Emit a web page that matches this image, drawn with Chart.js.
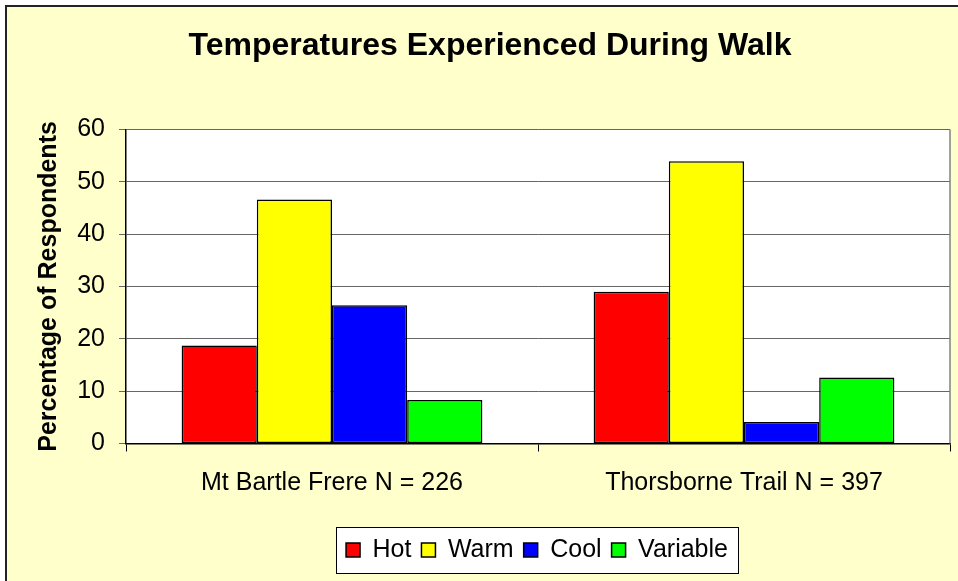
<!DOCTYPE html>
<html>
<head>
<meta charset="utf-8">
<script src="https://cdn.jsdelivr.net/npm/chart.js@4.4.1/dist/chart.umd.min.js"></script>
<style>
  html, body { margin: 0; padding: 0; background: #fff; }
</style>
</head>
<body>
<canvas id="tempChart" width="958" height="581"></canvas>
<script>
// dados
const categories = ['Mt Bartle Frere N = 226', 'Thorsborne Trail N = 397'];
const seriesNames = ['Hot', 'Warm', 'Cool', 'Variable'];
const hotValues = [18.7, 29.0];
const warmValues = [46.6, 53.9];
const coolValues = [26.4, 4.1];
const variableValues = [8.3, 12.6];
const seriesColors = ['#FF0000', '#FFFF00', '#0000FF', '#00FF00'];

const FONT = '"Liberation Sans", Arial, sans-serif';
const LEGEND_CENTER_X = 537;
const TITLE_CENTER_X = 490;

function legendFrame(chart) {
    const boxes = chart.legend && chart.legend.legendHitBoxes;
    if (!boxes || !boxes.length) return null;
    const left = Math.min(...boxes.map(b => b.left)) - 10;
    const right = Math.max(...boxes.map(b => b.left + b.width)) + 10;
    const mid = boxes[0].top + boxes[0].height / 2;
    return { x: Math.round(left), y: Math.round(mid - 23), w: Math.round(right - left), h: 46 };
}

// fundo amarelo, moldura e área do gráfico branca
const framePlugin = {
    id: 'frame',
    afterUpdate(chart) {
        // desloca título e legenda para a posição do original
        const lg = chart.legend;
        if (lg) {
            const dx = LEGEND_CENTER_X - (lg.left + lg.right) / 2;
            lg.left += dx;
            lg.right += dx;
            (lg.legendHitBoxes || []).forEach(b => { b.left += dx; });
        }
        const tb = chart.titleBlock;
        if (tb) {
            const dt = TITLE_CENTER_X - (tb.left + tb.right) / 2;
            tb.left += dt;
            tb.right += dt;
        }
    },
    beforeDraw(chart) {
        const ctx = chart.ctx;
        const a = chart.chartArea;
        ctx.save();
        ctx.fillStyle = '#ffffff';
        ctx.fillRect(0, 0, chart.width, chart.height);
        ctx.fillStyle = '#FFFFCC';
        ctx.fillRect(6, 6, chart.width, chart.height);
        ctx.strokeStyle = '#222';
        ctx.lineWidth = 2;
        ctx.strokeRect(6, 6, chart.width + 10, chart.height + 10);
        ctx.fillStyle = '#ffffff';
        ctx.fillRect(a.left, a.top, a.right - a.left, a.bottom - a.top);
        const f = legendFrame(chart);
        if (f) ctx.fillRect(f.x, f.y, f.w, f.h);
        ctx.restore();
    },
    afterDraw(chart) {
        const ctx = chart.ctx;
        const a = chart.chartArea;
        ctx.save();
        // borda direita da área do gráfico
        ctx.strokeStyle = '#808080';
        ctx.lineWidth = 1.5;
        ctx.beginPath();
        ctx.moveTo(a.right, a.top);
        ctx.lineTo(a.right, a.bottom);
        ctx.stroke();
        // caixa da legenda
        const f = legendFrame(chart);
        if (f) {
            ctx.strokeStyle = '#000';
            ctx.lineWidth = 1;
            ctx.strokeRect(f.x + 0.5, f.y + 0.5, f.w, f.h);
        }
        ctx.restore();
    }
};

function makeDataset(i, values) {
    return {
        label: seriesNames[i],
        data: values,
        backgroundColor: seriesColors[i],
        borderColor: '#000000',
        borderWidth: 1.5,
        borderSkipped: false,
        barPercentage: 1.0,
        categoryPercentage: 0.73
    };
}

const ctx = document.getElementById('tempChart');

window.tempChartInstance = new Chart(ctx, {
    type: 'bar',
    data: {
        labels: categories,
        datasets: [
            makeDataset(0, hotValues),
            makeDataset(1, warmValues),
            makeDataset(2, coolValues),
            makeDataset(3, variableValues)
        ]
    },
    options: {
        responsive: false,
        animation: false,
        devicePixelRatio: 1,
        layout: {
            padding: { left: 0, right: 8, top: 0, bottom: 8.5 }
        },
        plugins: {
            title: {
                display: true,
                text: 'Temperatures Experienced During Walk',
                color: '#000',
                font: { family: FONT, size: 32, weight: 'bold' },
                padding: { top: 27, bottom: 64 }
            },
            legend: {
                position: 'bottom',
                labels: {
                    color: '#000',
                    font: { family: FONT, size: 25 },
                    boxWidth: 14,
                    boxHeight: 14,
                    padding: 10
                }
            },
            tooltip: { enabled: false }
        },
        scales: {
            x: {
                grid: {
                    display: true,
                    drawOnChartArea: false,
                    drawTicks: true,
                    tickLength: 8,
                    color: '#000',
                    offset: true
                },
                border: { display: true, color: '#000', width: 1.5 },
                ticks: {
                    color: '#000',
                    font: { family: FONT, size: 25 },
                    padding: 17,
                    maxRotation: 0
                },
                afterFit(scale) { scale.height = 84; }
            },
            y: {
                min: 0,
                max: 60,
                grid: {
                    color: '#666',
                    lineWidth: 1,
                    tickLength: 7,
                    drawTicks: true
                },
                border: { display: true, color: '#000', width: 1.5 },
                ticks: {
                    stepSize: 10,
                    color: '#000',
                    font: { family: FONT, size: 25 },
                    padding: 14
                },
                title: {
                    display: true,
                    text: 'Percentage of Respondents',
                    color: '#000',
                    font: { family: FONT, size: 25, weight: 'bold' },
                    padding: { top: 34, bottom: 0 }
                },
                afterFit(scale) { scale.width = 126; }
            }
        }
    },
    plugins: [framePlugin]
});
</script>
</body>
</html>
